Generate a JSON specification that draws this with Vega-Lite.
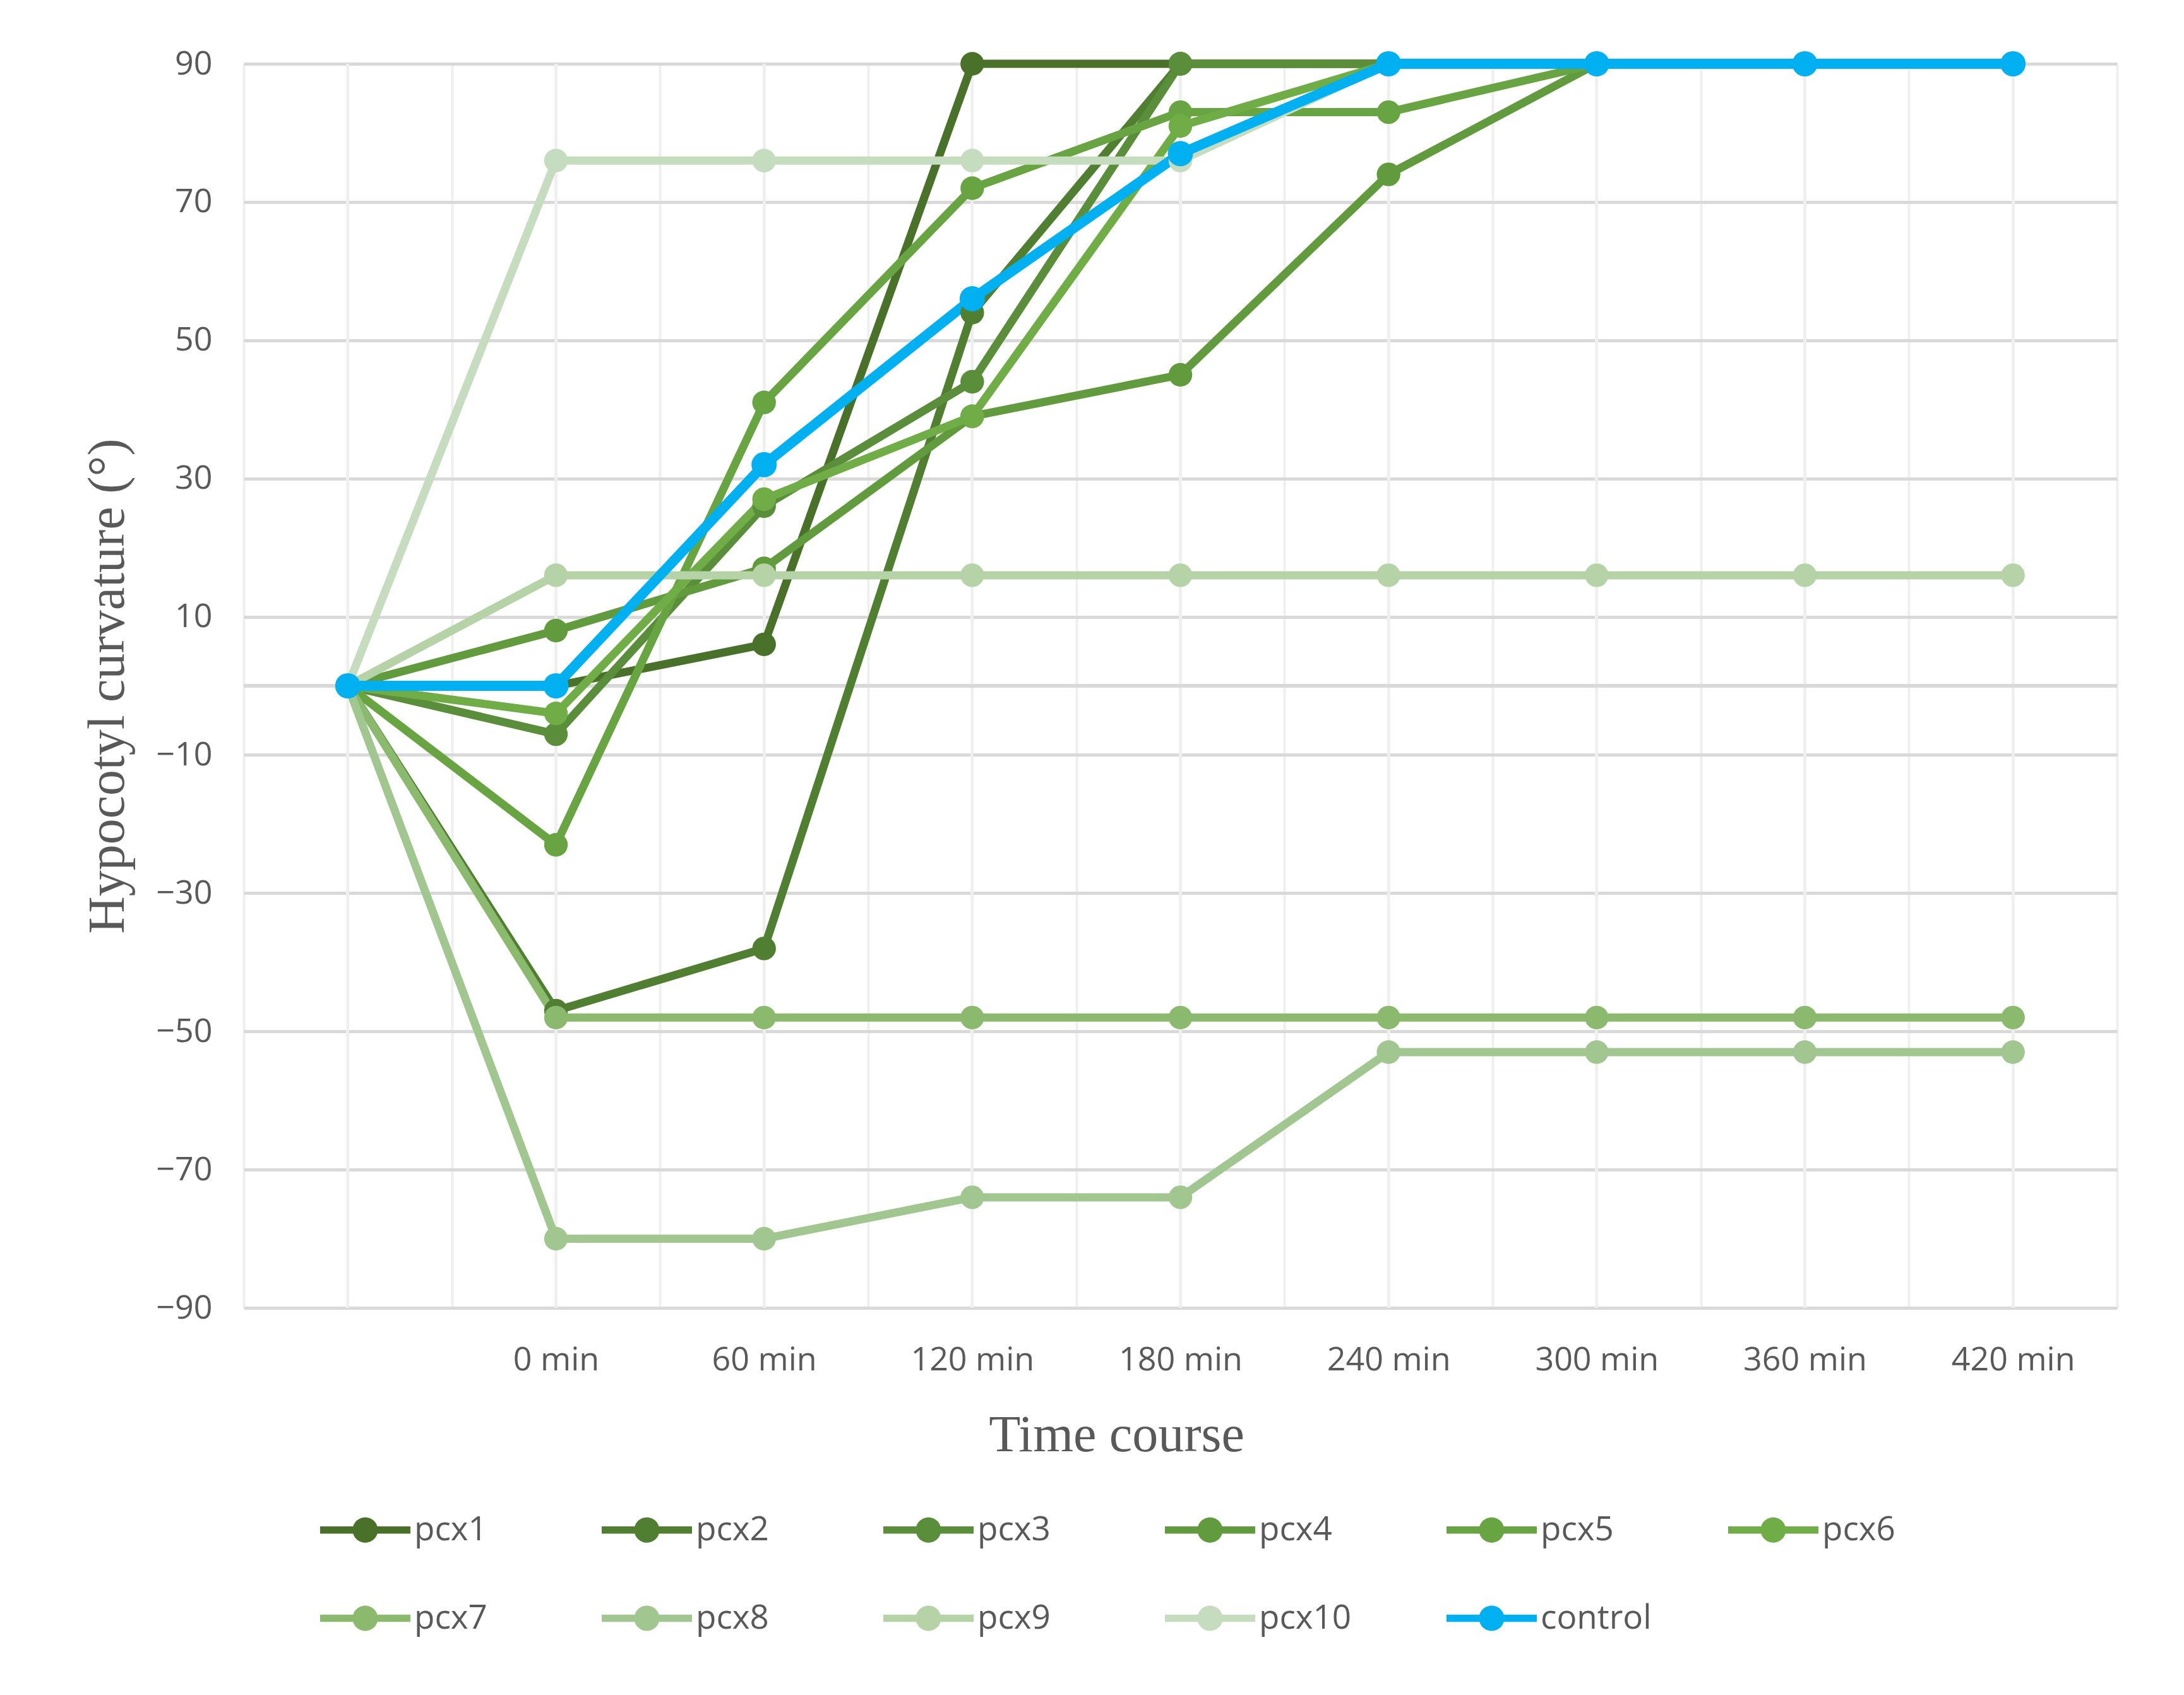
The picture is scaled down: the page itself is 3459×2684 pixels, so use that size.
{
  "$schema": "https://vega.github.io/schema/vega-lite/v6.json",
  "width": 2967,
  "height": 1970,
  "autosize": {"type": "none"},
  "padding": {"left": 386, "top": 101, "right": 106, "bottom": 613},
  "background": "white",
  "data": {"values": [
    {"s":"pcx1","t":"","v":0},{"s":"pcx1","t":"0 min","v":0},{"s":"pcx1","t":"60 min","v":6},{"s":"pcx1","t":"120 min","v":90},{"s":"pcx1","t":"180 min","v":90},{"s":"pcx1","t":"240 min","v":90},{"s":"pcx1","t":"300 min","v":90},{"s":"pcx1","t":"360 min","v":90},{"s":"pcx1","t":"420 min","v":90},
    {"s":"pcx2","t":"","v":0},{"s":"pcx2","t":"0 min","v":-47},{"s":"pcx2","t":"60 min","v":-38},{"s":"pcx2","t":"120 min","v":54},{"s":"pcx2","t":"180 min","v":90},{"s":"pcx2","t":"240 min","v":90},{"s":"pcx2","t":"300 min","v":90},{"s":"pcx2","t":"360 min","v":90},{"s":"pcx2","t":"420 min","v":90},
    {"s":"pcx3","t":"","v":0},{"s":"pcx3","t":"0 min","v":-7},{"s":"pcx3","t":"60 min","v":26},{"s":"pcx3","t":"120 min","v":44},{"s":"pcx3","t":"180 min","v":90},{"s":"pcx3","t":"240 min","v":90},{"s":"pcx3","t":"300 min","v":90},{"s":"pcx3","t":"360 min","v":90},{"s":"pcx3","t":"420 min","v":90},
    {"s":"pcx4","t":"","v":0},{"s":"pcx4","t":"0 min","v":8},{"s":"pcx4","t":"60 min","v":17},{"s":"pcx4","t":"120 min","v":39},{"s":"pcx4","t":"180 min","v":45},{"s":"pcx4","t":"240 min","v":74},{"s":"pcx4","t":"300 min","v":90},{"s":"pcx4","t":"360 min","v":90},{"s":"pcx4","t":"420 min","v":90},
    {"s":"pcx5","t":"","v":0},{"s":"pcx5","t":"0 min","v":-23},{"s":"pcx5","t":"60 min","v":41},{"s":"pcx5","t":"120 min","v":72},{"s":"pcx5","t":"180 min","v":83},{"s":"pcx5","t":"240 min","v":83},{"s":"pcx5","t":"300 min","v":90},{"s":"pcx5","t":"360 min","v":90},{"s":"pcx5","t":"420 min","v":90},
    {"s":"pcx6","t":"","v":0},{"s":"pcx6","t":"0 min","v":-4},{"s":"pcx6","t":"60 min","v":27},{"s":"pcx6","t":"120 min","v":39},{"s":"pcx6","t":"180 min","v":81},{"s":"pcx6","t":"240 min","v":90},{"s":"pcx6","t":"300 min","v":90},{"s":"pcx6","t":"360 min","v":90},{"s":"pcx6","t":"420 min","v":90},
    {"s":"pcx7","t":"","v":0},{"s":"pcx7","t":"0 min","v":-48},{"s":"pcx7","t":"60 min","v":-48},{"s":"pcx7","t":"120 min","v":-48},{"s":"pcx7","t":"180 min","v":-48},{"s":"pcx7","t":"240 min","v":-48},{"s":"pcx7","t":"300 min","v":-48},{"s":"pcx7","t":"360 min","v":-48},{"s":"pcx7","t":"420 min","v":-48},
    {"s":"pcx8","t":"","v":0},{"s":"pcx8","t":"0 min","v":-80},{"s":"pcx8","t":"60 min","v":-80},{"s":"pcx8","t":"120 min","v":-74},{"s":"pcx8","t":"180 min","v":-74},{"s":"pcx8","t":"240 min","v":-53},{"s":"pcx8","t":"300 min","v":-53},{"s":"pcx8","t":"360 min","v":-53},{"s":"pcx8","t":"420 min","v":-53},
    {"s":"pcx9","t":"","v":0},{"s":"pcx9","t":"0 min","v":16},{"s":"pcx9","t":"60 min","v":16},{"s":"pcx9","t":"120 min","v":16},{"s":"pcx9","t":"180 min","v":16},{"s":"pcx9","t":"240 min","v":16},{"s":"pcx9","t":"300 min","v":16},{"s":"pcx9","t":"360 min","v":16},{"s":"pcx9","t":"420 min","v":16},
    {"s":"pcx10","t":"","v":0},{"s":"pcx10","t":"0 min","v":76},{"s":"pcx10","t":"60 min","v":76},{"s":"pcx10","t":"120 min","v":76},{"s":"pcx10","t":"180 min","v":76},{"s":"pcx10","t":"240 min","v":90},{"s":"pcx10","t":"300 min","v":90},{"s":"pcx10","t":"360 min","v":90},{"s":"pcx10","t":"420 min","v":90},
    {"s":"control","t":"","v":0},{"s":"control","t":"0 min","v":0},{"s":"control","t":"60 min","v":32},{"s":"control","t":"120 min","v":56},{"s":"control","t":"180 min","v":77},{"s":"control","t":"240 min","v":90},{"s":"control","t":"300 min","v":90},{"s":"control","t":"360 min","v":90},{"s":"control","t":"420 min","v":90}
  ]},
  "config": {
    "view": {"stroke": null},
    "font": "Open Sans",
    "axis": {
      "domain": false,
      "ticks": false,
      "labelFont": "Open Sans",
      "labelFontSize": 52,
      "labelColor": "#595959",
      "labelLimit": 1000,
      "titleFont": "Liberation Serif",
      "titleFontSize": 82,
      "titleFontWeight": "normal",
      "titleColor": "#595959"
    }
  },
  "layer": [
    {
      "mark": {"type": "rule", "color": "#efefef", "strokeWidth": 4},
      "encoding": {
        "x": {
          "field": "t", "type": "ordinal",
          "scale": {"type": "band", "paddingInner": 0, "paddingOuter": 0,
                    "domain": ["", "0 min", "60 min", "120 min", "180 min", "240 min", "300 min", "360 min", "420 min"]},
          "axis": {
            "title": "Time course",
            "tickBand": "extent",
            "grid": true,
            "gridColor": "#efefef",
            "gridWidth": 4,
            "labelAngle": 0,
            "labelPadding": 57,
            "titleX": 1382,
            "titleY": 201,
            "titleAlign": "center",
            "titleBaseline": "middle"
          }
        }
      }
    },
    {
      "mark": {"type": "rule", "color": "#d9d9d9", "strokeWidth": 5},
      "encoding": {"y": {"datum": 0, "type": "quantitative"}}
    },
    {
      "mark": {"type": "line", "strokeJoin": "round", "strokeCap": "round"},
      "encoding": {
        "x": {"field": "t", "type": "ordinal"},
        "y": {
          "field": "v", "type": "quantitative",
          "scale": {"domain": [-90, 90], "nice": false, "zero": false},
          "axis": {
            "values": [-90, -70, -50, -30, -10, 10, 30, 50, 70, 90],
            "grid": true,
            "gridColor": "#d9d9d9",
            "gridWidth": 5,
            "labelPadding": 50,
            "title": "Hypocotyl curvature (°)",
            "titleX": -216,
            "titleY": 985,
            "titleAlign": "center",
            "titleBaseline": "middle"
          }
        },
        "color": {
          "field": "s", "type": "nominal",
          "scale": {
            "domain": ["pcx1","pcx2","pcx3","pcx4","pcx5","pcx6","pcx7","pcx8","pcx9","pcx10","control"],
            "range": ["#4a7129","#517f31","#5a8e3a","#629a3e","#69a443","#70ad47","#8bba6f","#a1c68f","#b5d3a6","#c6dcbe","#00b0f0"]
          },
          "legend": {
            "title": null,
            "orient": "none",
            "legendX": 121,
            "legendY": 2250,
            "direction": "horizontal",
            "columns": 6,
            "gridAlign": "all",
            "padding": 0,
            "symbolType": "M-1,-0.08L1,-0.08L1,0.08L-1,0.08Z M-0.28,0 A0.28,0.28 0 1 1 0.28,0 A0.28,0.28 0 1 1 -0.28,0 Z",
            "symbolSize": 20449,
            "symbolStrokeWidth": 0,
            "labelFont": "Open Sans",
            "labelFontSize": 53,
            "labelColor": "#595959",
            "labelLimit": 1000,
            "labelOffset": 6,
            "columnPadding": 121,
            "rowPadding": 41,
            "encode": {
              "symbols": {
                "update": {
                  "fill": {"scale": "color", "field": "value"},
                  "stroke": {"value": "transparent"},
                  "opacity": {"value": 1}
                }
              }
            }
          }
        },
        "strokeWidth": {"condition": {"test": "datum.s === 'control'", "value": 16}, "value": 13}
      }
    },
    {
      "mark": {"type": "point", "filled": true, "shape": "circle", "opacity": 1, "strokeWidth": 0},
      "encoding": {
        "x": {"field": "t", "type": "ordinal"},
        "y": {"field": "v", "type": "quantitative"},
        "color": {"field": "s", "type": "nominal"},
        "size": {"condition": {"test": "datum.s === 'control'", "value": 1600}, "value": 1400}
      }
    }
  ]
}
